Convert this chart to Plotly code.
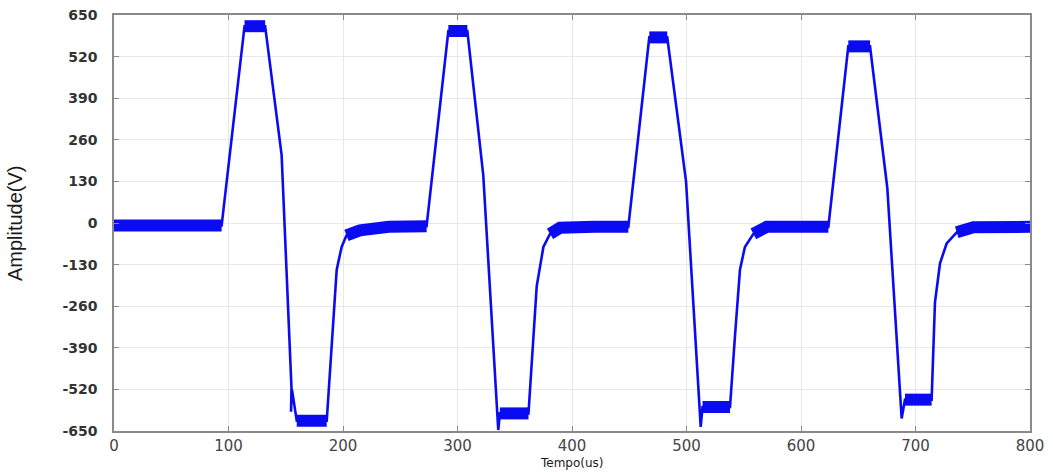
import plotly.graph_objects as go

# Key points of the waveform (time in us, amplitude in V)
time_us = [0, 94, 114, 132, 146.4, 155, 154.6, 155.4, 159.6, 185.8, 194.5, 198.8, 203, 214.8, 240, 273,
           292, 308.6, 322.5, 335.6, 337, 362, 369.2, 375, 380.8, 389.5, 420, 449.2,
           467.5, 483.2, 499.6, 512.4, 514, 538, 542.4, 546.7, 551, 558.4, 570, 600, 623.9,
           641.3, 660.3, 675.4, 687.9, 690.8, 714.1, 717, 721.4, 727.2, 736, 750.5, 800]
amplitude_v = [-8, -8, 615, 615, 212, -515, -590, -520, -618, -618, -146, -75, -39, -23, -12, -10,
               600, 600, 150, -647, -595, -595, -197, -75, -34, -15, -12, -12,
               580, 580, 130, -637, -575, -575, -350, -146, -75, -34, -12, -12, -12,
               552, 552, 109, -611, -552, -552, -248, -126, -64, -29, -13, -12]

# Time spans where the trace shows a thick noise band (plateaus and baselines)
noisy_spans = [(0, 94), (114, 132), (159.6, 185.8), (203, 273), (292, 308.6), (337, 362),
               (380.8, 449.2), (467.5, 483.2), (514, 538), (558.4, 623.9), (641.3, 660.3),
               (690.8, 714.1), (736, 800)]

x_ticks = [0, 100, 200, 300, 400, 500, 600, 700, 800]
y_ticks = [-650, -520, -390, -260, -130, 0, 130, 260, 390, 520, 650]

BLUE = "#0b0bf2"

band_x, band_y = [], []
for a, b in noisy_spans:
    for t, v in zip(time_us, amplitude_v):
        if a <= t <= b:
            band_x.append(t)
            band_y.append(v)
    band_x.append(None)
    band_y.append(None)

fig = go.Figure()
fig.add_trace(go.Scatter(x=band_x, y=band_y, mode="lines",
                         line=dict(color=BLUE, width=12), hoverinfo="skip", showlegend=False))
fig.add_trace(go.Scatter(x=time_us, y=amplitude_v, mode="lines",
                         line=dict(color=BLUE, width=2.6), showlegend=False))

axis_common = dict(showline=True, linecolor="#8a8a8a", linewidth=1.5, mirror="allticks",
                   ticks="inside", ticklen=5, tickcolor="#8a8a8a", tickwidth=1,
                   showgrid=True, gridcolor="#e8e8e8", gridwidth=1, zeroline=False)

fig.update_xaxes(range=[0, 800], tickvals=x_ticks, ticktext=[str(v) for v in x_ticks],
                 tickfont=dict(family="DejaVu Sans", size=15, color="#444444"),
                 ticklabelstandoff=0, **axis_common)
fig.update_yaxes(range=[-650, 650], tickvals=y_ticks, ticktext=[str(v) for v in y_ticks],
                 tickfont=dict(family="DejaVu Sans", size=14, color="#333333", weight="bold"),
                 ticklabelstandoff=12, **axis_common)

fig.add_annotation(text="Amplitude(V)", xref="paper", yref="paper", x=-0.108, y=0.5,
                   textangle=-90, showarrow=False, xanchor="center", yanchor="middle",
                   font=dict(family="Liberation Sans Narrow, Arial Narrow, Liberation Sans",
                             size=20, color="#1a1a1a"))
fig.add_annotation(text="Tempo(us)", xref="paper", yref="paper", x=0.5, y=-0.0967,
                   showarrow=False, xanchor="center", yanchor="bottom", borderpad=0,
                   font=dict(family="DejaVu Sans", size=12, color="#1a1a1a"))

fig.update_layout(width=1053, height=472, margin=dict(l=114, r=23, t=7, b=41),
                  plot_bgcolor="white", paper_bgcolor="white")

fig.write_html("out.html")
